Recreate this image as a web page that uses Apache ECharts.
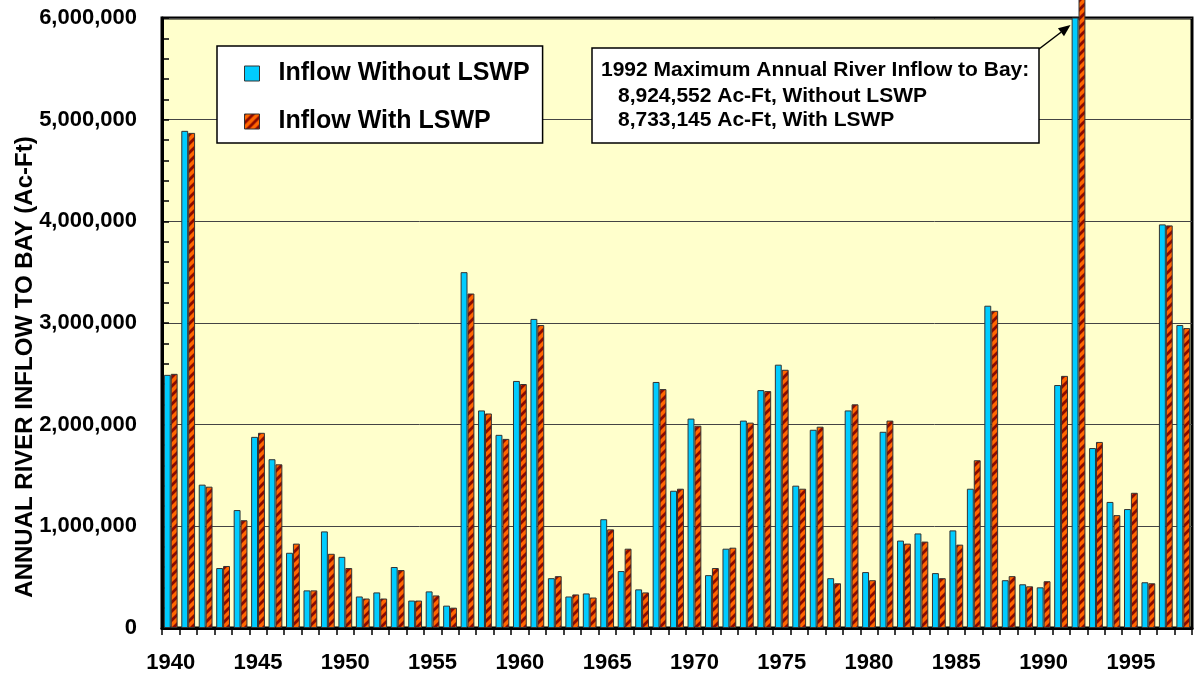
<!DOCTYPE html>
<html>
<head>
<meta charset="utf-8">
<script src="https://cdn.jsdelivr.net/npm/echarts@6/dist/echarts.min.js"></script>
<style>
  html,body{margin:0;padding:0;background:#fff;}
  #main{width:1194px;height:677px;}
</style>
</head>
<body>
<div id="main"></div>
<script>
// 年份（横轴标签）
var years = ['1940','1941','1942','1943','1944','1945','1946','1947','1948','1949',
  '1950','1951','1952','1953','1954','1955','1956','1957','1958','1959',
  '1960','1961','1962','1963','1964','1965','1966','1967','1968','1969',
  '1970','1971','1972','1973','1974','1975','1976','1977','1978','1979',
  '1980','1981','1982','1983','1984','1985','1986','1987','1988','1989',
  '1990','1991','1992','1993','1994','1995','1996','1997','1998'];

var withoutLSWP = [2490000, 4890000, 1410000, 590000, 1160000, 1880000, 1660000, 740000, 370000, 950000,
  700000, 310000, 350000, 600000, 270000, 360000, 220000, 3500000, 2140000, 1900000,
  2430000, 3040000, 490000, 310000, 340000, 1070000, 560000, 380000, 2420000, 1350000,
  2060000, 520000, 780000, 2040000, 2340000, 2590000, 1400000, 1950000, 490000, 2140000,
  550000, 1930000, 860000, 930000, 540000, 960000, 1370000, 3170000, 470000, 430000,
  400000, 2390000, 8924552, 1770000, 1240000, 1170000, 450000, 3970000, 2980000];

var withLSWP = [2500000, 4870000, 1390000, 610000, 1060000, 1920000, 1610000, 830000, 370000, 730000,
  590000, 290000, 290000, 570000, 270000, 320000, 200000, 3290000, 2110000, 1860000,
  2400000, 2980000, 510000, 330000, 300000, 970000, 780000, 350000, 2350000, 1370000,
  1990000, 590000, 790000, 2020000, 2330000, 2540000, 1370000, 1980000, 440000, 2200000,
  470000, 2040000, 830000, 850000, 490000, 820000, 1650000, 3120000, 510000, 410000,
  460000, 2480000, 8733145, 1830000, 1110000, 1330000, 440000, 3960000, 2950000];

var seriesNames = ['Inflow Without LSWP', 'Inflow With LSWP'];
var yTitle = 'ANNUAL RIVER INFLOW TO BAY (Ac-Ft)';
var noteLines = ['1992 Maximum Annual River Inflow to Bay:',
  '8,924,552 Ac-Ft, Without LSWP',
  '8,733,145 Ac-Ft, With LSWP'];

var FONT = 'Arial, "Liberation Sans", sans-serif';

// 斜条纹填充
function stripes() {
  var s = 9;
  var c = document.createElement('canvas');
  c.width = s; c.height = s;
  var ctx = c.getContext('2d');
  ctx.fillStyle = '#FF6600';
  ctx.fillRect(0, 0, s, s);
  ctx.strokeStyle = '#8B0A00';
  ctx.lineWidth = 2.8;
  ctx.beginPath();
  ctx.moveTo(-s, 2 * s); ctx.lineTo(2 * s, -s);
  ctx.moveTo(-2 * s, 2 * s); ctx.lineTo(s, -s);
  ctx.moveTo(0, 2 * s); ctx.lineTo(3 * s, -s);
  ctx.stroke();
  return c;
}
var stripeFill = { image: stripes(), repeat: 'repeat' };

var myChart = echarts.init(document.getElementById('main'));

var option = {
  animation: false,
  backgroundColor: '#fff',
  grid: {
    left: 162, right: 2, top: 18, bottom: 49,
    show: true,
    backgroundColor: '#FFFFCC',
    borderColor: '#000',
    borderWidth: 3
  },
  legend: {
    data: seriesNames,
    orient: 'vertical',
    left: 217, top: 46,
    padding: [15, 13, 9, 27],
    icon: 'rect',
    itemWidth: 15, itemHeight: 15,
    itemGap: 23,
    backgroundColor: '#fff',
    borderColor: '#000',
    borderWidth: 1.5,
    itemStyle: { borderColor: '#333', borderWidth: 1 },
    textStyle: { fontFamily: FONT, fontWeight: 'bold', fontSize: 25, color: '#000', padding: [0, 0, 0, 14] }
  },
  xAxis: {
    type: 'category',
    data: years,
    axisLine: { lineStyle: { color: '#000', width: 3 } },
    axisTick: { show: true, interval: 0, length: 7, lineStyle: { color: '#000', width: 1.5 } },
    axisLabel: { interval: 4, margin: 24, fontFamily: FONT, fontWeight: 'bold', fontSize: 22, color: '#000' }
  },
  yAxis: {
    type: 'value',
    min: 0, max: 6000000, interval: 1000000,
    axisLine: { show: true, lineStyle: { color: '#000', width: 3 } },
    axisTick: { show: true, inside: true, length: 7, lineStyle: { color: '#000', width: 1.5 } },
    minorTick: { show: true, splitNumber: 5, length: 7, lineStyle: { color: '#000', width: 1.5 } },
    splitLine: { show: true, lineStyle: { color: '#444', width: 1 } },
    axisLabel: {
      margin: 25, fontFamily: FONT, fontWeight: 'bold', fontSize: 22, color: '#000',
      formatter: function (v) { return String(v).replace(/\B(?=(\d{3})+(?!\d))/g, ','); }
    }
  },
  series: [
    {
      name: seriesNames[0],
      type: 'bar',
      data: withoutLSWP,
      barGap: '0%',
      barCategoryGap: '21%',
      clip: true,
      itemStyle: { color: '#00CCFF', borderColor: '#333', borderWidth: 1 }
    },
    {
      name: seriesNames[1],
      type: 'bar',
      data: withLSWP,
      clip: false,
      itemStyle: { color: stripeFill, borderColor: '#333', borderWidth: 1 }
    }
  ]
};

myChart.setOption(option);

// 注释框、箭头、纵轴标题
var top92 = myChart.convertToPixel({ gridIndex: 0 }, ['1992', 6000000]);
var boxL = 592, boxT = 48, boxW = 447, boxH = 95;
var ax = boxL + boxW, ay = boxT + 1;
var tx = top92[0] - 8, ty = top92[1] + 7;
var ang = Math.atan2(ty - ay, tx - ax);
var hl = 12, hw = 5;
var bx = tx - hl * Math.cos(ang), by = ty - hl * Math.sin(ang);
var nx = -Math.sin(ang), ny = Math.cos(ang);

myChart.setOption({
  graphic: [
    { type: 'text', x: 25, y: 367, rotation: Math.PI / 2,
      style: { text: yTitle, fill: '#000', font: 'bold 24px ' + FONT, textAlign: 'center', textVerticalAlign: 'middle' } },
    { type: 'rect', shape: { x: boxL, y: boxT, width: boxW, height: boxH },
      style: { fill: '#fff', stroke: '#000', lineWidth: 1.5 }, z: 10 },
    { type: 'text', x: 601, y: 70, style: { text: noteLines[0], fill: '#000', font: 'bold 21px ' + FONT, textVerticalAlign: 'middle' }, z: 11 },
    { type: 'text', x: 618, y: 96, style: { text: noteLines[1], fill: '#000', font: 'bold 21px ' + FONT, textVerticalAlign: 'middle' }, z: 11 },
    { type: 'text', x: 618, y: 120, style: { text: noteLines[2], fill: '#000', font: 'bold 21px ' + FONT, textVerticalAlign: 'middle' }, z: 11 },
    { type: 'line', shape: { x1: ax, y1: ay, x2: bx, y2: by }, style: { stroke: '#000', lineWidth: 1.5 }, z: 11 },
    { type: 'polygon', shape: { points: [[tx, ty], [bx + nx * hw, by + ny * hw], [bx - nx * hw, by - ny * hw]] },
      style: { fill: '#000' }, z: 11 }
  ]
});
</script>
</body>
</html>
